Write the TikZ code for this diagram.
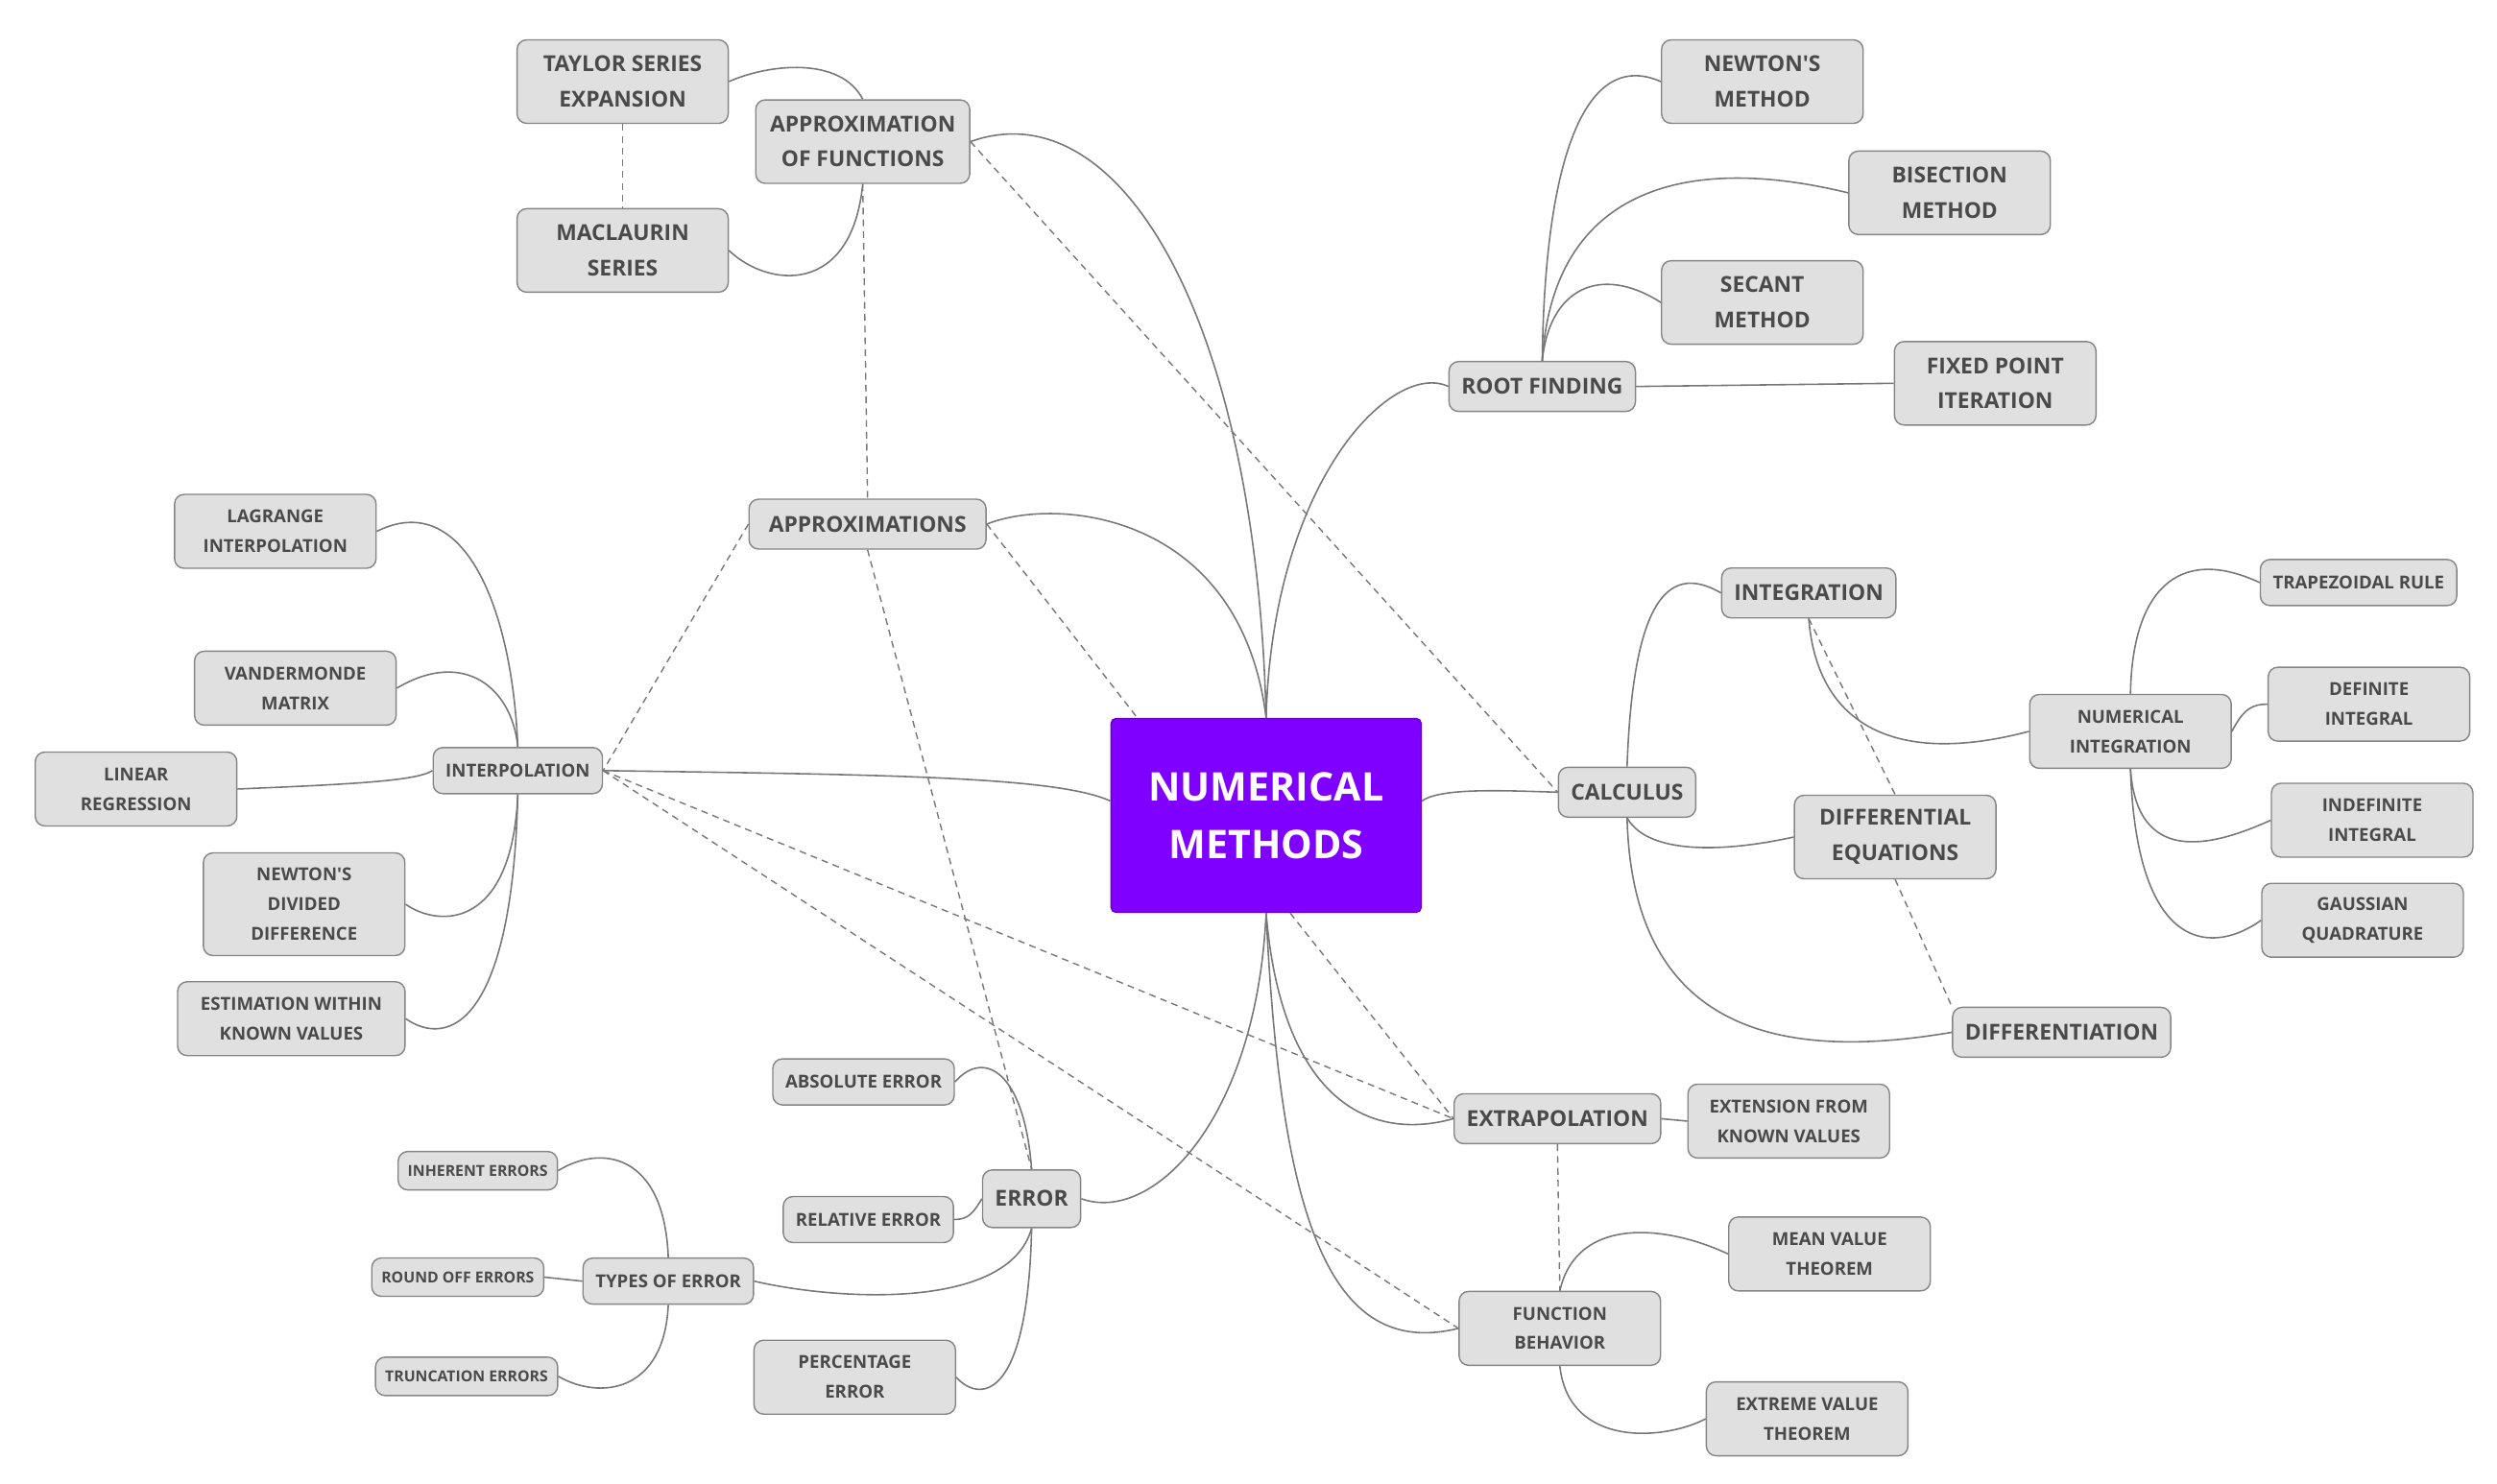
\documentclass[tikz,border=0pt]{standalone}
\usepackage{fontspec}
\setmainfont{Open Sans}[Ligatures=TeXOff]
\usepackage{tikz}
\usetikzlibrary{shapes.geometric, arrows}
\usetikzlibrary{positioning}
\definecolor{boxfill}{HTML}{E0E0E0}
\definecolor{boxline}{HTML}{858585}
\definecolor{inkgrey}{HTML}{4A4A4A}
\definecolor{linkgrey}{HTML}{777777}
\definecolor{rootpurple}{HTML}{7F00FF}
\tikzstyle{topic} = [rectangle, rounded corners=0.1cm, minimum height=0.52cm, inner xsep=0.13cm, inner ysep=0.05cm, align=center, draw=boxline, fill=boxfill, text=inkgrey, font=\bfseries\fontsize{6.5}{10.4}\selectfont]
\tikzstyle{subtopic} = [topic, minimum height=0.48cm, font=\bfseries\fontsize{5.3}{8.8}\selectfont]
\tikzstyle{leaf} = [topic, minimum height=0.4cm, inner xsep=0.1cm, font=\bfseries\fontsize{4.5}{6}\selectfont]
\tikzstyle{twoline} = [minimum width=2.1cm, minimum height=0.87cm]
\tikzstyle{twolinesub} = [minimum width=2.1cm, minimum height=0.77cm]
\tikzstyle{centre} = [rectangle, rounded corners=0.05cm, minimum width=3.23cm, minimum height=2.02cm, align=center, draw=rootpurple!80!black, fill=rootpurple, text=white, font=\bfseries\fontsize{11.7}{17}\selectfont]
\tikzstyle{link} = [draw=linkgrey, line width=0.45pt]
\tikzstyle{crosslink} = [draw=linkgrey, line width=0.4pt, dash pattern=on 2pt off 1.5pt]
\begin{document}
\begin{tikzpicture}[x=0.016673cm, y=-0.016673cm]

\useasboundingbox (0,0) rectangle (1560,927);

\node (num) [centre] at (791,509.5) {NUMERICAL\\METHODS};

\node (apf) [topic, twoline, minimum width=2.23cm] at (539,88.5) {APPROXIMATION\\OF FUNCTIONS};
\node (tay) [topic, twoline, minimum width=2.2cm] at (389,51) {TAYLOR SERIES\\EXPANSION};
\node (mac) [topic, twoline, minimum width=2.2cm] at (389,156.5) {MACLAURIN\\SERIES};
\node (apx) [topic, minimum width=2.47cm] at (542,327.5) {APPROXIMATIONS};

\node (itp) [subtopic] at (323.5,481.5) {INTERPOLATION};
\node (lag) [subtopic, twolinesub] at (172,332) {LAGRANGE\\INTERPOLATION};
\node (van) [subtopic, twolinesub] at (184.5,430) {VANDERMONDE\\MATRIX};
\node (lin) [subtopic, twolinesub] at (85,493) {LINEAR\\REGRESSION};
\node (ndd) [subtopic, twolinesub, minimum height=1.07cm] at (190,565) {NEWTON'S\\DIVIDED\\DIFFERENCE};
\node (est) [subtopic, twolinesub, minimum width=2.37cm] at (182,636.5) {ESTIMATION WITHIN\\KNOWN VALUES};

\node (err) [topic, minimum height=0.6cm] at (644.5,749) {ERROR};
\node (abs) [subtopic] at (539.5,676) {ABSOLUTE ERROR};
\node (rel) [subtopic] at (542.5,762) {RELATIVE ERROR};
\node (pct) [subtopic, twolinesub] at (534,860.5) {PERCENTAGE\\ERROR};
\node (toe) [subtopic] at (417.5,800.5) {TYPES OF ERROR};
\node (inh) [leaf] at (298.5,731.5) {INHERENT ERRORS};
\node (rnd) [leaf] at (286,798) {ROUND OFF ERRORS};
\node (trn) [leaf] at (291.5,860) {TRUNCATION ERRORS};

\node (rtf) [topic] at (963.5,241.5) {ROOT FINDING};
\node (nwm) [topic, twoline] at (1101,51) {NEWTON'S\\METHOD};
\node (bis) [topic, twoline] at (1218,120.5) {BISECTION\\METHOD};
\node (sec) [topic, twoline] at (1101,189) {SECANT\\METHOD};
\node (fpi) [topic, twoline] at (1246.5,239.5) {FIXED POINT\\ITERATION};

\node (cal) [topic] at (1016.5,495) {CALCULUS};
\node (itg) [topic] at (1130,370.5) {INTEGRATION};
\node (deq) [topic, twoline] at (1184,523) {DIFFERENTIAL\\EQUATIONS};
\node (dif) [topic] at (1288,645) {DIFFERENTIATION};
\node (nin) [subtopic, twolinesub] at (1331,457) {NUMERICAL\\INTEGRATION};
\node (trp) [subtopic] at (1473.5,364) {TRAPEZOIDAL RULE};
\node (def) [subtopic, twolinesub] at (1480,440) {DEFINITE\\INTEGRAL};
\node (ind) [subtopic, twolinesub] at (1482,512.5) {INDEFINITE\\INTEGRAL};
\node (gau) [subtopic, twolinesub] at (1476,575) {GAUSSIAN\\QUADRATURE};

\node (exa) [topic] at (973,699) {EXTRAPOLATION};
\node (ext) [subtopic, twolinesub] at (1117.5,700.5) {EXTENSION FROM\\KNOWN VALUES};
\node (fnb) [subtopic, twolinesub] at (974.5,830) {FUNCTION\\BEHAVIOR};
\node (mvt) [subtopic, twolinesub] at (1143,783.5) {MEAN VALUE\\THEOREM};
\node (evt) [subtopic, twolinesub] at (1129,886.5) {EXTREME VALUE\\THEOREM};

% main branches
\draw [link] (num.north) .. controls (785,200) and (700,55) .. (apf.east);
\draw [link] (num.north) .. controls (775,320) and (660,310) .. (apx.east);
\draw [link] (num.north) .. controls (795,300) and (870,225) .. (rtf.west);
\draw [link] ([yshift=0.15cm]num.west) .. controls (660,485) and (550,484) .. (itp.east);
\draw [link] (num.south) .. controls (785,700) and (720,765) .. (err.east);
\draw [link] (num.south) .. controls (800,680) and (850,715) .. (exa.west);
\draw [link] (num.south) .. controls (800,760) and (830,850) .. (fnb.west);
\draw [link] ([yshift=0.15cm]num.east) .. controls (900,492) and (940,494) .. (cal.west);

\draw [link] (tay.east) .. controls (480,40) and (525,35) .. (apf.north);
\draw [link] (mac.east) .. controls (480,180) and (532,185) .. (apf.south);

\draw [link] (lag.east) .. controls (290,305) and (320,380) .. (itp.north);
\draw [link] (van.east) .. controls (290,405) and (320,430) .. (itp.north);
\draw [link] (lin.east) .. controls (220,490) and (260,488) .. (itp.west);
\draw [link] (ndd.east) .. controls (275,580) and (320,580) .. (itp.south);
\draw [link] (est.east) .. controls (280,655) and (320,640) .. (itp.south);

\draw [link] (abs.east) .. controls (615,655) and (640,670) .. (err.north);
\draw [link] (rel.east) .. controls (605,762) and (608,758) .. (err.west);
\draw [link] (toe.east) .. controls (520,812) and (630,820) .. (err.south);
\draw [link] (pct.east) .. controls (610,875) and (642,880) .. (err.south);
\draw [link] (inh.east) .. controls (375,715) and (415,720) .. (toe.north);
\draw [link] (rnd.east) -- (toe.west);
\draw [link] (trn.east) .. controls (375,875) and (415,870) .. (toe.south);

\draw [link] (nwm.west) .. controls (990,30) and (965,100) .. (rtf.north);
\draw [link] (bis.west) .. controls (1050,95) and (970,120) .. (rtf.north);
\draw [link] (sec.west) .. controls (1000,165) and (968,180) .. (rtf.north);
\draw [link] (rtf.east) -- (fpi.west);

\draw [link] (itg.west) .. controls (1040,350) and (1020,380) .. (cal.north);
\draw [link] (deq.west) .. controls (1080,532) and (1030,535) .. (cal.south);
\draw [link] (dif.west) .. controls (1120,662) and (1020,650) .. (cal.south);
\draw [link] (itg.south) .. controls (1135,450) and (1180,480) .. (nin.west);
\draw [link] (trp.west) .. controls (1360,340) and (1332,370) .. (nin.north);
\draw [link] (nin.east) .. controls (1402,442) and (1408,440) .. (def.west);
\draw [link] (ind.west) .. controls (1380,530) and (1335,540) .. (nin.south);
\draw [link] (gau.west) .. controls (1385,595) and (1335,600) .. (nin.south);

\draw [link] (exa.east) -- (ext.west);
\draw [link] (mvt.west) .. controls (1040,765) and (985,760) .. (fnb.north);
\draw [link] (evt.west) .. controls (1040,900) and (980,905) .. (fnb.south);

% cross links
\draw [crosslink] (tay.south) -- (mac.north);
\draw [crosslink] (apf.south) -- (apx.north);
\draw [crosslink] (apf.east) -- (cal.west);
\draw [crosslink] (apx.west) -- (itp.east);
\draw [crosslink] (apx.east) -- ([xshift=0.28cm]num.north west);
\draw [crosslink] (apx.south) -- (err.north);
\draw [crosslink] (itp.east) -- (exa.west);
\draw [crosslink] (itp.east) -- (fnb.west);
\draw [crosslink] ([xshift=0.25cm]num.south) -- (exa.west);
\draw [crosslink] (exa.south) -- (fnb.north);
\draw [crosslink] (itg.south) -- (deq.north);
\draw [crosslink] (deq.south) -- (dif.north west);

\end{tikzpicture}
\end{document}
